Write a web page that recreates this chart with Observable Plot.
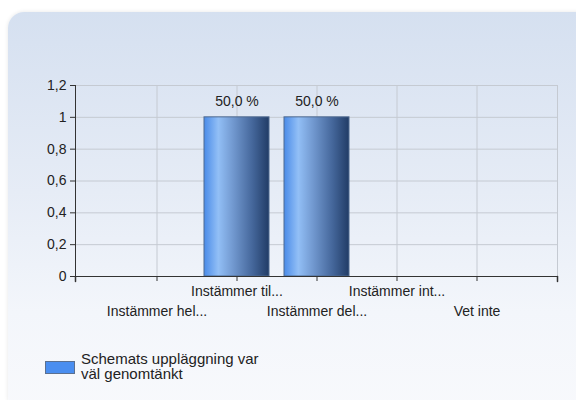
<!DOCTYPE html>
<html>
<head>
<meta charset="utf-8">
<script src="https://cdn.jsdelivr.net/npm/d3@7"></script>
<script src="https://cdn.jsdelivr.net/npm/@observablehq/plot@0.6"></script>
<style>
  html, body { margin: 0; padding: 0; background: #ffffff; }
  #wrap { position: relative; width: 576px; height: 400px; overflow: hidden; font-family: "Liberation Sans", Arial, sans-serif; }
  #panel { position: absolute; left: 8px; top: 12px; width: 600px; height: 400px; border-radius: 16px;
           background: linear-gradient(180deg, #d5e0f0 0%, #e6ecf6 45%, #f3f6fb 75%, #f8f9fc 100%);
           box-shadow: 0 0 4px rgba(0,0,0,0.10); }
  #chart { position: absolute; left: 0; top: 0; }
  #legend { position: absolute; left: 45px; top: 351px; display: flex; align-items: flex-start; color: #222; font-size: 15px; line-height: 15px; }
  #legend .sw { width: 28px; height: 11px; background: #4a8ef0; border: 1px solid #5b7090; margin-top: 10px; margin-right: 6px; }
  #legend .tx { width: 190px; }
</style>
</head>
<body>
<div id="wrap">
  <div id="panel"></div>
  <div id="chart"></div>
  <div id="legend"><div class="sw"></div><div class="tx" id="legendText"></div></div>
</div>
<script>
const categories = ["Instämmer hel...", "Instämmer til...", "Instämmer del...", "Instämmer int...", "Vet inte"];
const values = [0, 1, 1, 0, 0];
const valueLabels = ["0,0 %", "50,0 %", "50,0 %", "0,0 %", "0,0 %"];
const yTicks = [0, 0.2, 0.4, 0.6, 0.8, 1, 1.2];
const yTickLabels = ["0", "0,2", "0,4", "0,6", "0,8", "1", "1,2"];
const seriesName = "Schemats uppläggning var väl genomtänkt";

const data = categories.map((c, i) => ({cat: c, value: values[i], label: valueLabels[i]}));
const shown = data.filter(d => d.value > 0);
const rowA = categories.filter((d, i) => i % 2 === 1);
const rowB = categories.filter((d, i) => i % 2 === 0);

const defs = () => {
  const d = d3.create("svg:defs");
  const g = d.append("linearGradient").attr("id", "barGrad").attr("x1", "0").attr("x2", "1").attr("y1", "0").attr("y2", "0");
  [[0, "#4a8be8"], [0.22, "#92bff6"], [0.45, "#7198cf"], [0.75, "#44669a"], [1, "#213c66"]]
    .forEach(([o, c]) => g.append("stop").attr("offset", o).attr("stop-color", c));
  return d.node();
};

const tickShape = {draw(context, l) { context.moveTo(0, 0); context.lineTo(0, -l); }};

const chart = Plot.plot({
  width: 576,
  height: 330,
  marginTop: 85,
  marginBottom: 54,
  marginLeft: 75,
  marginRight: 19,
  style: {background: "transparent", fontFamily: "'Liberation Sans', Arial, sans-serif", fontSize: "14px", color: "#222"},
  x: {domain: categories, paddingInner: 0.19, paddingOuter: 0.595, label: null},
  y: {domain: [0, 1.2], label: null},
  marks: [
    defs,
    Plot.gridY(yTicks, {stroke: "#c5cad2", strokeOpacity: 1}),
    Plot.gridX(categories, {stroke: "#c5cad2", strokeOpacity: 1}),
    Plot.frame({stroke: "#c5cad2"}),
    Plot.barY(shown, {x: "cat", y: "value", fill: "url(#barGrad)", stroke: "#4f6b90", strokeWidth: 1}),
    Plot.text(shown, {x: "cat", y: "value", text: "label", dy: -16, fontSize: 14, fill: "#222"}),
    Plot.ruleY([0], {stroke: "#333"}),
    Plot.frame({anchor: "left", stroke: "#333"}),
    Plot.axisY({ticks: yTicks, tickFormat: d => yTickLabels[yTicks.indexOf(d)], tickSize: 5, tickPadding: 4, fontSize: 14, stroke: "#333", fill: "#222", label: null}),
    Plot.axisX({ticks: categories, tickSize: 5, tickFormat: () => "", stroke: "#333", label: null}),
    Plot.vector([0], {frameAnchor: "bottom-left", length: 5, rotate: 180, anchor: "start", shape: tickShape, stroke: "#333"}),
    Plot.vector([0], {frameAnchor: "bottom-right", length: 5, rotate: 180, anchor: "start", shape: tickShape, stroke: "#333"}),
    Plot.axisX(rowA, {tickSize: 0, tickPadding: 10, fontSize: 14, fill: "#222", label: null}),
    Plot.axisX(rowB, {tickSize: 0, tickPadding: 30, fontSize: 14, fill: "#222", label: null})
  ]
});
document.getElementById("chart").appendChild(chart);
document.getElementById("legendText").textContent = seriesName;
</script>
</body>
</html>
